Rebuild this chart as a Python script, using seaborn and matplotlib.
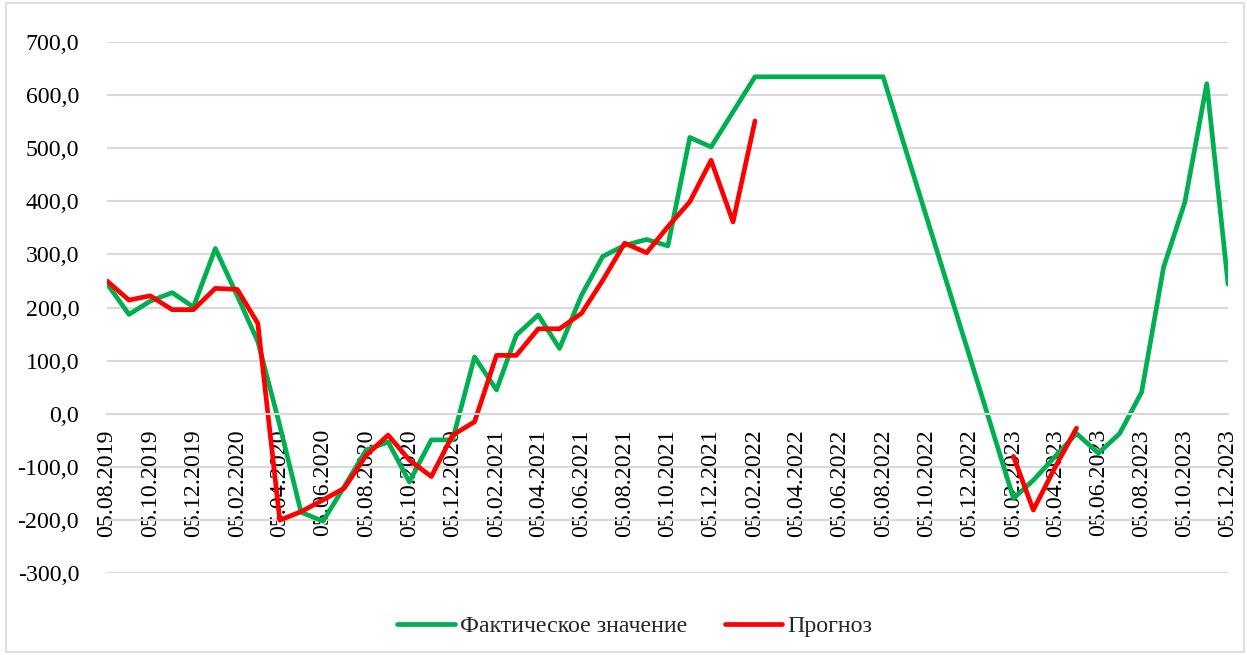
import pandas as pd
import matplotlib.pyplot as plt
import matplotlib.dates as mdates
from matplotlib.ticker import FuncFormatter
from matplotlib.patches import Rectangle
import seaborn as sns

# Фактические значения
fact_dates = ['2019-08-05', '2019-09-05', '2019-10-05', '2019-11-05', '2019-12-05',
              '2020-01-05', '2020-02-05', '2020-03-05', '2020-04-05', '2020-05-05',
              '2020-06-05', '2020-07-05', '2020-08-05', '2020-09-05', '2020-10-05',
              '2020-11-05', '2020-12-05', '2021-01-05', '2021-02-05', '2021-03-05',
              '2021-04-05', '2021-05-05', '2021-06-05', '2021-07-05', '2021-08-05',
              '2021-09-05', '2021-10-05', '2021-11-05', '2021-12-05', '2022-01-05',
              '2022-02-05', '2022-08-05', '2023-02-05', '2023-03-05', '2023-04-05',
              '2023-05-05', '2023-06-05', '2023-07-05', '2023-08-05', '2023-09-05',
              '2023-10-05', '2023-11-05', '2023-12-05']
fact_values = [245, 187, 212, 228, 201,
               311, 222, 136, -22, -185,
               -202, -137, -68, -53, -128,
               -49, -49, 107, 45, 148,
               186, 123, 223, 296, 317,
               328, 316, 520, 502, 568,
               634, 634, -159, -125, -80,
               -37, -74, -37, 41, 276,
               398, 621, 244]

# Прогноз
fc_dates = ['2019-08-05', '2019-09-05', '2019-10-05', '2019-11-05', '2019-12-05',
            '2020-01-05', '2020-02-05', '2020-03-05', '2020-04-05', '2020-05-05',
            '2020-06-05', '2020-07-05', '2020-08-05', '2020-09-05', '2020-10-05',
            '2020-11-05', '2020-12-05', '2021-01-05', '2021-02-05', '2021-03-05',
            '2021-04-05', '2021-05-05', '2021-06-05', '2021-07-05', '2021-08-05',
            '2021-09-05', '2021-10-05', '2021-11-05', '2021-12-05', '2022-01-05',
            '2022-02-05']
fc_values = [250, 214, 222, 196, 196,
             236, 234, 170, -200, -184,
             -162, -140, -78, -40, -87,
             -118, -40, -15, 110, 110,
             160, 160, 189, 251, 321,
             303, 352, 399, 477, 361,
             551]
fc2_dates = ['2023-02-05', '2023-03-05', '2023-04-05', '2023-05-05']
fc2_values = [-80, -181, -100, -27]

fact = pd.DataFrame({'date': pd.to_datetime(fact_dates), 'value': fact_values})
fc1 = pd.DataFrame({'date': pd.to_datetime(fc_dates), 'value': fc_values})
fc2 = pd.DataFrame({'date': pd.to_datetime(fc2_dates), 'value': fc2_values})

sns.set_theme(style="white")
plt.rcParams['font.family'] = ['Liberation Serif', 'DejaVu Serif']

GREEN = '#00B050'
RED = '#FF0000'
GRID = '#D9D9D9'
FS = 17.2

fig = plt.figure(figsize=(12.47, 6.55), dpi=100)
ax = fig.add_axes([0.0858, 0.1247, 0.899, 0.8116])

sns.lineplot(data=fact, x='date', y='value', ax=ax, color=GREEN, lw=3.4,
             label='Фактическое значение', solid_capstyle='round', solid_joinstyle='round')
sns.lineplot(data=fc1, x='date', y='value', ax=ax, color=RED, lw=3.4,
             label='Прогноз', solid_capstyle='round', solid_joinstyle='round')
sns.lineplot(data=fc2, x='date', y='value', ax=ax, color=RED, lw=3.4,
             solid_capstyle='round', solid_joinstyle='round')

ax.set_xlim(pd.Timestamp('2019-08-05'), pd.Timestamp('2023-12-05'))
ax.set_ylim(-300, 700)
ax.set_yticks(range(-300, 701, 100))
ax.yaxis.set_major_formatter(FuncFormatter(lambda v, p: f"{v:.1f}".replace('.', ',')))
ax.yaxis.grid(True, color=GRID, lw=1.5)
ax.set_axisbelow(True)

ax.xaxis.set_major_locator(mdates.MonthLocator(bymonth=[2, 4, 6, 8, 10, 12], bymonthday=5))
ax.xaxis.set_major_formatter(mdates.DateFormatter('%d.%m.%Y'))

for s in ['top', 'right', 'left']:
    ax.spines[s].set_visible(False)
ax.spines['bottom'].set_position(('data', 0))
ax.spines['bottom'].set_color(GRID)
ax.spines['bottom'].set_linewidth(1.5)

ax.tick_params(axis='x', direction='out', length=7, width=1.5, color=GRID,
               labelsize=FS, labelcolor='black', pad=4, rotation=90)
ax.tick_params(axis='y', length=0, labelsize=FS, labelcolor='black', pad=20)
ax.set_xlabel('')
ax.set_ylabel('')

ax.legend(loc='center', bbox_to_anchor=(0.509, 0.044), bbox_transform=fig.transFigure,
          ncol=2, frameon=False, fontsize=FS, handlelength=2.4, handletextpad=0.2,
          columnspacing=1.6)

fig.patches.append(Rectangle((6 / 1247, 3 / 655), 1238 / 1247, 649 / 655,
                             transform=fig.transFigure, fill=False, edgecolor=GRID, lw=1.2))

fig.savefig('out.png', dpi=100)
